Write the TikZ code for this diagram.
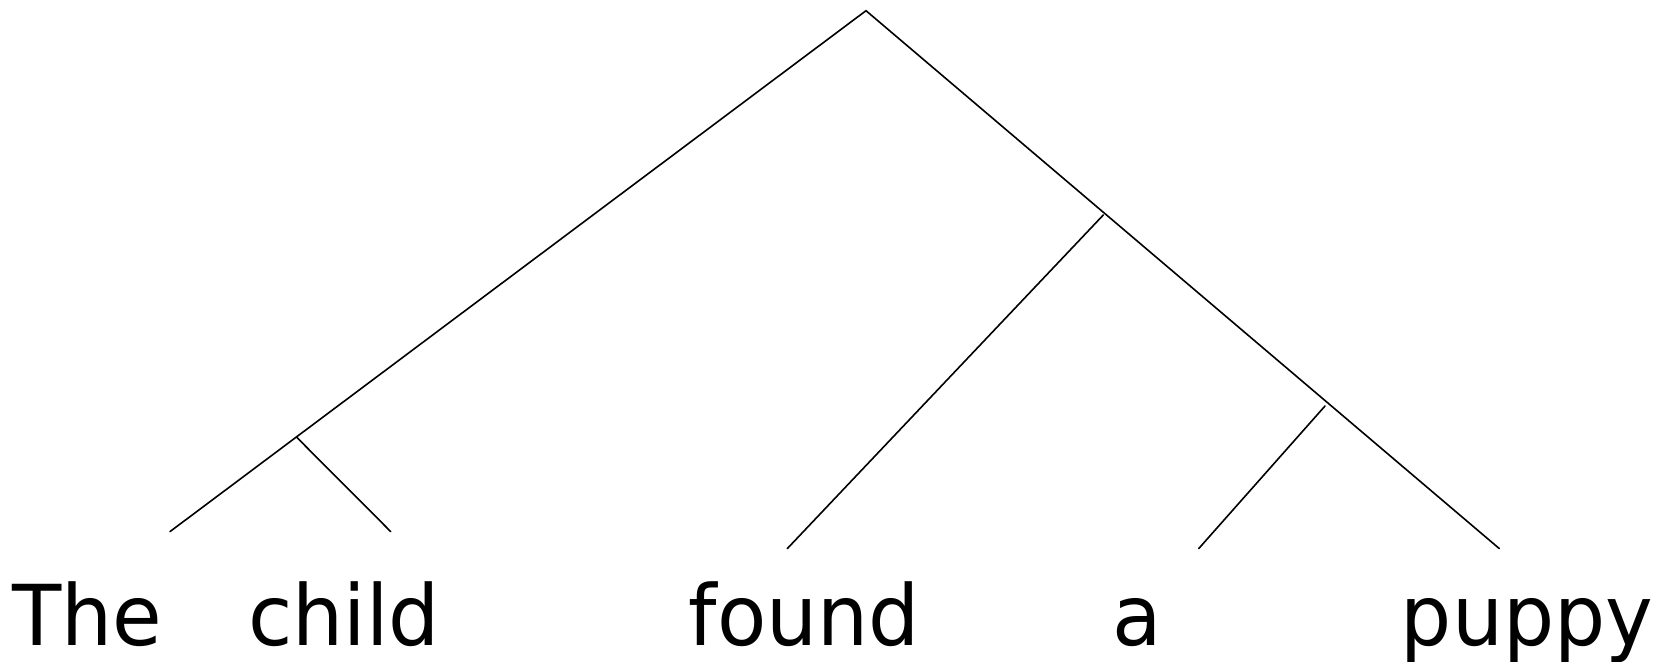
\documentclass[tikz,border=0pt]{standalone}
\usepackage{fontspec}
\setmainfont{DejaVu Sans}
\begin{document}
\begin{tikzpicture}[x=1pt,y=1pt,
  branch/.style={line width=1.6pt, line cap=round},
  word/.style={inner sep=0pt, anchor=base, font=\fontsize{84}{100}\selectfont, xscale=0.96, transform shape}]
\useasboundingbox (0,0) rectangle (1667,661);
\coordinate (root) at (866,650.3);
\coordinate (L) at (296.7,223.7);
\coordinate (theend) at (170,129.4);
\coordinate (childend) at (390.7,129.4);
\coordinate (R1) at (1103.3,446);
\coordinate (foundend) at (787.3,112.4);
\coordinate (R2) at (1325,255);
\coordinate (aend) at (1198.7,112.4);
\coordinate (puppyend) at (1499.3,112.4);
\draw[branch] (theend) -- (root) -- (puppyend);
\draw[branch] (L) -- (childend);
\draw[branch] (R1) -- (foundend);
\draw[branch] (R2) -- (aend);
\node[word] (the) at (87.5,16) {The};
\node[word] (child) at (344.2,16) {child};
\node[word] (found) at (804.5,16) {found};
\node[word] (a) at (1137.5,16) {a};
\node[word] (puppy) at (1527,16) {puppy};
\end{tikzpicture}
\end{document}
